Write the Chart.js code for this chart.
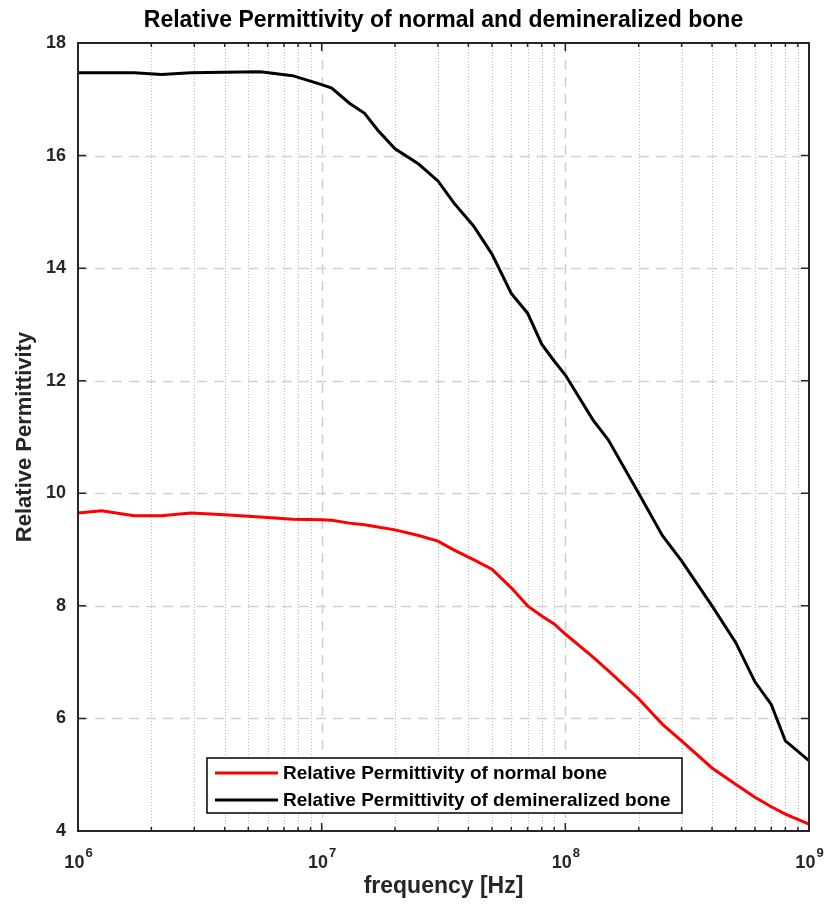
<!DOCTYPE html>
<html>
<head>
<meta charset="utf-8">
<title>Relative Permittivity of bone</title>
<script src="https://cdn.jsdelivr.net/npm/chart.js@4.4.0/dist/chart.umd.min.js"></script>
<style>
  html, body { margin: 0; padding: 0; background: #fff; }
  #wrap { width: 828px; height: 910px; }
  canvas { display: block; }
</style>
</head>
<body>
<div id="wrap"><canvas id="permChart" width="828" height="910"></canvas></div>
<script>
// values
const frequency = [
  1e6, 1.25e6, 1.7e6, 2.2e6, 2.9e6, 4e6, 5.6e6, 7.6e6,
  1e7, 1.1e7, 1.3e7, 1.5e7, 1.7e7, 2e7, 2.5e7, 3e7, 3.5e7, 4.2e7, 5e7, 6e7, 7e7, 8e7, 9e7,
  1e8, 1.3e8, 1.5e8, 2e8, 2.5e8, 3e8, 4e8, 5e8, 6e8, 7e8, 8e8, 1e9,
];
const normalBone = [
  9.65, 9.69, 9.6, 9.6, 9.65, 9.62, 9.58, 9.54,
  9.53, 9.52, 9.47, 9.44, 9.4, 9.35, 9.25, 9.15, 8.99, 8.82, 8.65, 8.32, 8.0, 7.82, 7.68,
  7.5, 7.09, 6.85, 6.35, 5.9, 5.6, 5.12, 4.83, 4.6, 4.43, 4.3, 4.12,
];
const demineralizedBone = [
  17.47, 17.47, 17.47, 17.44, 17.47, 17.48, 17.49, 17.42,
  17.26, 17.2, 16.93, 16.75, 16.45, 16.12, 15.85, 15.55, 15.15, 14.75, 14.25, 13.55, 13.2, 12.65, 12.35,
  12.1, 11.3, 10.95, 10.0, 9.25, 8.8, 8.0, 7.35, 6.65, 6.25, 5.6, 5.25,
];
const seriesLabels = [
  'Relative Permittivity of normal bone',
  'Relative Permittivity of demineralized bone',
];
const xDecades = [1e6, 1e7, 1e8, 1e9];
const yTicks = [4, 6, 8, 10, 12, 14, 16, 18];

const FONT = 'Helvetica, "Liberation Sans", Arial, sans-serif';
const AXIS = '#262626';

function toPoints(values) {
  return frequency.map((f, i) => ({ x: f, y: values[i] }));
}

// grid lines under the curves (MATLAB style: dashed majors, dotted minors)
const gridPlugin = {
  id: 'matlabGrid',
  beforeDatasetsDraw(chart) {
    const { ctx, chartArea: a, scales: { x, y } } = chart;
    ctx.save();
    ctx.lineWidth = 1;

    // minor x lines
    ctx.strokeStyle = '#b8b8b8';
    ctx.setLineDash([1, 2]);
    xDecades.slice(0, -1).forEach((d) => {
      for (let m = 2; m <= 9; m++) {
        const px = Math.round(x.getPixelForValue(m * d)) + 0.5;
        ctx.beginPath();
        ctx.moveTo(px, a.top);
        ctx.lineTo(px, a.bottom);
        ctx.stroke();
      }
    });

    // major lines
    ctx.strokeStyle = '#d0d0d0';
    ctx.lineWidth = 1.5;
    ctx.setLineDash([10, 7]);
    xDecades.slice(1, -1).forEach((d) => {
      const px = Math.round(x.getPixelForValue(d)) + 0.5;
      ctx.beginPath();
      ctx.moveTo(px, a.top);
      ctx.lineTo(px, a.bottom);
      ctx.stroke();
    });
    yTicks.slice(1, -1).forEach((v) => {
      const py = Math.round(y.getPixelForValue(v)) + 0.5;
      ctx.beginPath();
      ctx.moveTo(a.left, py);
      ctx.lineTo(a.right, py);
      ctx.stroke();
    });
    ctx.restore();
  },
  afterDraw(chart) {
    const { ctx, chartArea: a, scales: { x, y } } = chart;
    ctx.save();
    ctx.setLineDash([]);
    ctx.strokeStyle = AXIS;

    // inward tick marks
    ctx.lineWidth = 1.5;
    xDecades.forEach((d, k) => {
      const px = x.getPixelForValue(d);
      ctx.beginPath();
      ctx.moveTo(px, a.bottom); ctx.lineTo(px, a.bottom - 8);
      ctx.moveTo(px, a.top); ctx.lineTo(px, a.top + 8);
      ctx.stroke();
      if (k === xDecades.length - 1) return;
      for (let m = 2; m <= 9; m++) {
        const mx = x.getPixelForValue(m * d);
        ctx.beginPath();
        ctx.moveTo(mx, a.bottom); ctx.lineTo(mx, a.bottom - 4);
        ctx.moveTo(mx, a.top); ctx.lineTo(mx, a.top + 4);
        ctx.stroke();
      }
    });
    yTicks.forEach((v) => {
      const py = y.getPixelForValue(v);
      ctx.beginPath();
      ctx.moveTo(a.left, py); ctx.lineTo(a.left + 8, py);
      ctx.moveTo(a.right, py); ctx.lineTo(a.right - 8, py);
      ctx.stroke();
    });

    // axes box
    ctx.lineWidth = 2;
    ctx.strokeRect(a.left, a.top, a.right - a.left, a.bottom - a.top);

    // x tick labels 10^n
    ctx.fillStyle = AXIS;
    ctx.textBaseline = 'alphabetic';
    ctx.textAlign = 'left';
    xDecades.forEach((d) => {
      const px = x.getPixelForValue(d);
      const exp = String(Math.round(Math.log10(d)));
      ctx.font = 'bold 18px ' + FONT;
      const wb = ctx.measureText('10').width;
      ctx.font = 'bold 13px ' + FONT;
      const we = ctx.measureText(exp).width;
      const x0 = px - (wb + we) / 2;
      ctx.font = 'bold 18px ' + FONT;
      ctx.fillText('10', x0, 868);
      ctx.font = 'bold 13px ' + FONT;
      ctx.fillText(exp, x0 + wb + 1, 857);
    });

    // title
    ctx.fillStyle = '#000';
    ctx.font = 'bold 23px ' + FONT;
    ctx.textAlign = 'center';
    ctx.textBaseline = 'middle';
    ctx.fillText('Relative Permittivity of normal and demineralized bone', (a.left + a.right) / 2, 21);

    // legend inside the axes
    const box = { left: 207, top: 758, width: 475, height: 55 };
    ctx.fillStyle = '#fff';
    ctx.fillRect(box.left, box.top, box.width, box.height);
    ctx.lineWidth = 1.5;
    ctx.strokeStyle = '#000';
    ctx.strokeRect(box.left, box.top, box.width, box.height);
    ctx.font = 'bold 19px ' + FONT;
    ctx.textAlign = 'left';
    chart.data.datasets.forEach((ds, i) => {
      const ly = box.top + 15 + i * 27;
      ctx.strokeStyle = ds.borderColor;
      ctx.lineWidth = 3;
      ctx.beginPath();
      ctx.moveTo(box.left + 8, ly);
      ctx.lineTo(box.left + 71, ly);
      ctx.stroke();
      ctx.fillStyle = '#000';
      ctx.fillText(ds.label, box.left + 76, ly + 1);
    });
    ctx.restore();
  },
};

const ctx = document.getElementById('permChart');
new Chart(ctx, {
  type: 'line',
  data: {
    datasets: [
      {
        label: seriesLabels[0],
        data: toPoints(normalBone),
        borderColor: '#ff0000',
        borderWidth: 3,
        pointRadius: 0,
        tension: 0,
      },
      {
        label: seriesLabels[1],
        data: toPoints(demineralizedBone),
        borderColor: '#000000',
        borderWidth: 3,
        pointRadius: 0,
        tension: 0,
      },
    ],
  },
  options: {
    responsive: false,
    animation: false,
    layout: { padding: { top: 43, right: 19, left: 0, bottom: 0 } },
    plugins: {
      legend: { display: false },
      tooltip: { enabled: false },
      title: { display: false },
    },
    scales: {
      x: {
        type: 'logarithmic',
        min: 1e6,
        max: 1e9,
        grid: { display: false },
        border: { display: false },
        ticks: { display: false },
        afterFit: (s) => { s.height = 79; },
        title: {
          display: true,
          text: 'frequency [Hz]',
          color: AXIS,
          font: { family: FONT, size: 23, weight: 'bold' },
          padding: { top: 0, bottom: 10 },
        },
      },
      y: {
        min: 4,
        max: 18,
        afterBuildTicks: (s) => { s.ticks = yTicks.map((v) => ({ value: v })); },
        grid: { display: false, drawTicks: false },
        border: { display: false },
        ticks: {
          color: AXIS,
          padding: 12,
          font: { family: FONT, size: 18, weight: 'bold' },
        },
        afterFit: (s) => { s.width = 78; },
        title: {
          display: true,
          text: 'Relative Permittivity',
          color: AXIS,
          font: { family: FONT, size: 22, weight: 'bold' },
          padding: { top: 12, bottom: 0 },
        },
      },
    },
  },
  plugins: [gridPlugin],
});
</script>
</body>
</html>
